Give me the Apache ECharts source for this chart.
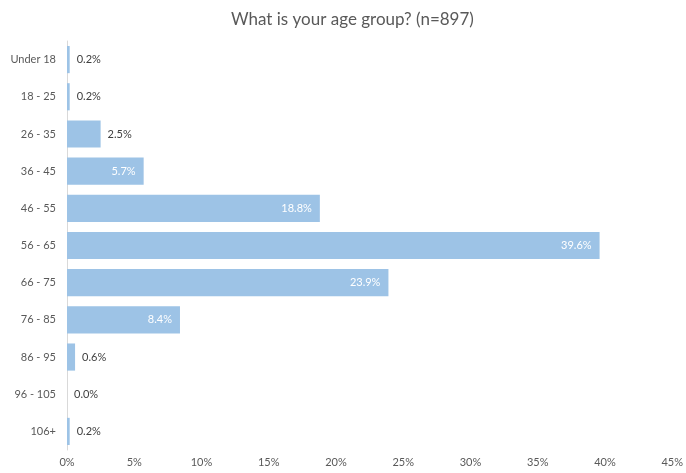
<!DOCTYPE html>
<html>
<head>
<meta charset="utf-8">
<script src="https://cdn.jsdelivr.net/npm/echarts@6/dist/echarts.min.js"></script>
<style>html,body{margin:0;padding:0;background:#fff}#c{width:686px;height:473px}</style>
</head>
<body>
<div id="c"></div>
<script>
var categories = ["Under 18", "18 - 25", "26 - 35", "36 - 45", "46 - 55", "56 - 65", "66 - 75", "76 - 85", "86 - 95", "96 - 105", "106+"];
var values = [0.2, 0.2, 2.5, 5.7, 18.8, 39.6, 23.9, 8.4, 0.6, 0.0, 0.2];
var titleText = "What is your age group? (n=897)";

var FONT = "Lato";
var chart = echarts.init(document.getElementById('c'), null, {renderer: 'canvas'});
var data = values.map(function (v) {
  var inside = v >= 5;
  return {
    value: v,
    label: inside ? {position: 'insideRight', color: '#ffffff', distance: 8}
                  : {position: 'right', color: '#404040', distance: 7}
  };
});
chart.setOption({
  animation: false,
  title: {
    text: titleText, left: 226, top: 6,
    textStyle: {fontFamily: FONT, fontSize: 17, fontWeight: 'normal', color: '#595959'}
  },
  grid: {left: 67, right: 11, top: 41, bottom: 23, containLabel: false},
  xAxis: {
    type: 'value', min: 0, max: 45, interval: 5,
    axisLine: {show: false}, axisTick: {show: false}, splitLine: {show: false},
    axisLabel: {formatter: '{value}%', fontFamily: FONT, fontSize: 11, color: '#595959', margin: 7}
  },
  yAxis: {
    type: 'category', data: categories, inverse: true,
    axisLine: {show: true, lineStyle: {color: '#d9d9d9', width: 1}},
    axisTick: {show: false},
    axisLabel: {fontFamily: FONT, fontSize: 11, color: '#595959', margin: 11}
  },
  series: [{
    type: 'bar', data: data, barCategoryGap: '27%',
    itemStyle: {color: '#9dc3e6'},
    label: {show: true, fontFamily: FONT, fontSize: 11,
      formatter: function (p) { return p.value.toFixed(1) + '%'; }}
  }]
});
</script>
</body>
</html>
